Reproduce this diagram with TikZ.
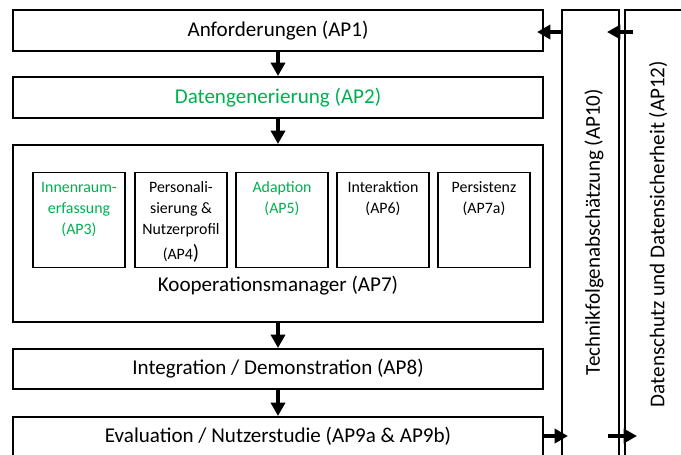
\documentclass[tikz,border=0pt]{standalone}
\usepackage{fontspec}
\setmainfont{Carlito}
\usetikzlibrary{arrows.meta}
\definecolor{apgreen}{HTML}{00B050}

\begin{document}
\begin{tikzpicture}[x=0.75pt,y=-0.75pt,
  wpbox/.style={draw, line width=1.5pt, minimum width=397.5pt, inner sep=0pt,
    font=\fontsize{15.8pt}{19pt}\selectfont},
  subbox/.style={draw, line width=1.3pt, minimum width=69pt, minimum height=71.25pt, inner sep=0pt},
  subtext/.style={anchor=north, align=center, inner sep=0pt, yshift=-7.5pt,
    font=\fontsize{11.9pt}{15.75pt}\selectfont},
  sidebox/.style={draw, line width=0.8pt, minimum height=345pt, inner sep=0pt},
  sidetext/.style={rotate=90, font=\fontsize{15.8pt}{19pt}\selectfont},
  bigtext/.style={font=\fontsize{15.8pt}{19pt}\selectfont},
  arr/.style={line width=2.8pt, -{Triangle[length=10pt,width=10.5pt]}},
]
\useasboundingbox (0,0) rectangle (681,454);
\clip (0,0) rectangle (681,454);

% main work package column
\node[wpbox, minimum height=30.75pt] (ap1) at (278,30.5) {Anforderungen (AP1)};
\node[wpbox, minimum height=30.75pt, text=apgreen] (ap2) at (278,97.5) {Datengenerierung (AP2)};
\node[wpbox, minimum height=132.75pt] (ap7) at (278,233.5) {};
\node[wpbox, minimum height=30pt] (ap8) at (278,369) {Integration / Demonstration (AP8)};
\node[wpbox, minimum height=39.75pt] (ap9) at (278,443.5) {};
\node[bigtext] (ap9t) at (278,436) {Evaluation / Nutzerstudie (AP9a \& AP9b)};

% sub packages inside the cooperation manager
\node[subbox] (ap3) at (79,220) {};
\node[subbox] (ap4) at (181,220) {};
\node[subbox] (ap5) at (282,220) {};
\node[subbox] (ap6) at (383,220) {};
\node[subbox] (ap7a) at (484,220) {};
\node[subtext, text=apgreen] (ap3t) at (ap3.north) {Innenraum-\\erfassung\\(AP3)};
\node[subtext] (ap4t) at (ap4.north) {Personali-\\sierung \&\\Nutzerprofil\\[3pt](AP4{\fontsize{15.5pt}{15.75pt}\selectfont )}};
\node[subtext, text=apgreen] (ap5t) at (ap5.north) {Adaption\\(AP5)};
\node[subtext] (ap6t) at (ap6.north) {Interaktion\\(AP6)};
\node[subtext] (ap7at) at (ap7a.north) {Persistenz\\(AP7a)};
\node[bigtext] (ap7t) at (278,286) {Kooperationsmanager (AP7)};

% cross-cutting packages on the right
\node[sidebox, minimum width=42.75pt] (ap10) at (590.5,240) {};
\node[sidebox, minimum width=56.25pt] (ap12) at (662.5,240) {};
\node[sidetext] (ap10t) at (594,232) {Technikfolgenabschätzung (AP10)};
\node[sidetext] (ap12t) at (658,234) {Datenschutz und Datensicherheit (AP12)};

% flow down the column
\draw[arr] (ap1.south) -- (ap2.north);
\draw[arr] (ap2.south) -- (ap7.north);
\draw[arr] (ap7.south) -- (ap8.north);
\draw[arr] (ap8.south) -- (ap9.north);

% links to and from the cross-cutting packages
\coordinate (t1s) at (562,32);
\coordinate (t1e) at (537,32);
\coordinate (t2s) at (633,32);
\coordinate (t2e) at (607,32);
\coordinate (b1s) at (543,436);
\coordinate (b1e) at (568,436);
\coordinate (b2s) at (608,436);
\coordinate (b2e) at (637,436);
\draw[arr] (t1s) -- (t1e);
\draw[arr] (t2s) -- (t2e);
\draw[arr] (b1s) -- (b1e);
\draw[arr] (b2s) -- (b2e);
\end{tikzpicture}
\end{document}
